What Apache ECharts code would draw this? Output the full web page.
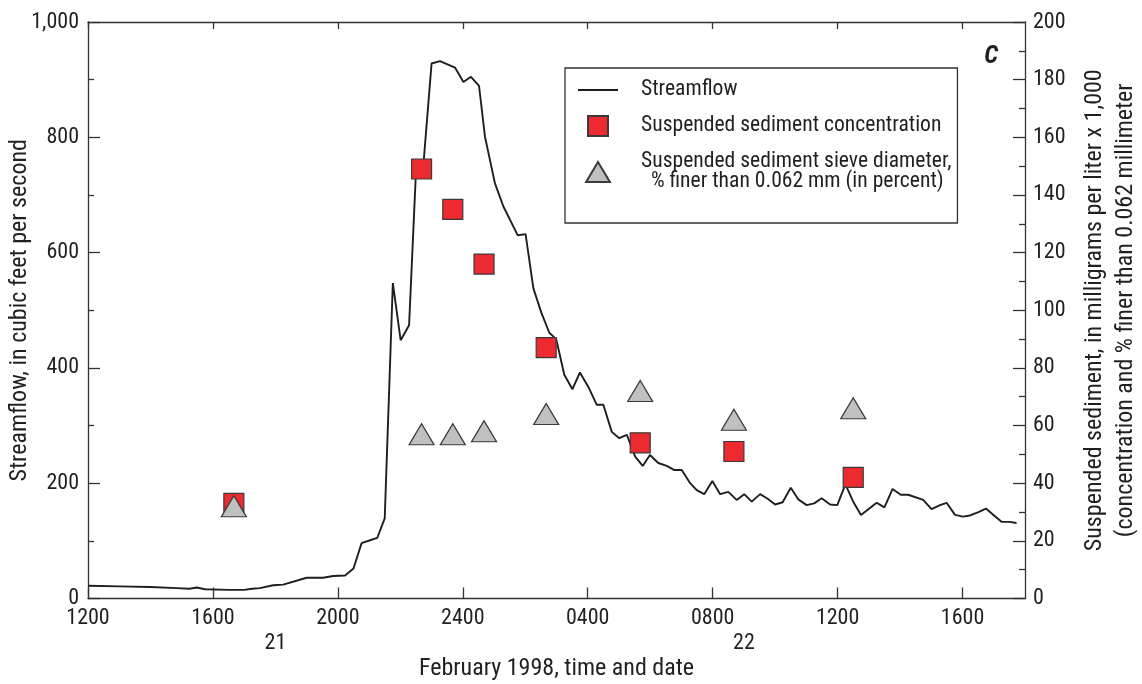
<!DOCTYPE html>
<html>
<head>
<meta charset="utf-8">
<title>Streamflow and suspended sediment, February 1998</title>
<script src="https://cdn.jsdelivr.net/npm/echarts@6/dist/echarts.min.js"></script>
<style>
  html, body { margin: 0; padding: 0; background: #ffffff; }
  #chart { width: 1142px; height: 684px; }
</style>
</head>
<body>
<div id="chart"></div>
<script>
// Time is expressed in hours after midnight starting February 21 (24 = midnight, 36 = noon on the 22nd).
const flowHours = [
  12.0, 13.0, 14.0, 14.84, 15.25, 15.48, 15.75, 16.5, 17.0, 17.25, 17.5, 17.93, 18.25,
  19.0, 19.53, 19.85, 20.23, 20.5, 20.76, 21.03, 21.26, 21.5, 21.76, 22.01, 22.28,
  22.5, 22.75, 23.0, 23.27, 23.75, 24.02, 24.26, 24.52, 24.71, 25.03, 25.3, 25.76,
  26.01, 26.26, 26.52, 26.77, 26.99, 27.25, 27.51, 27.75, 28.02, 28.29, 28.5, 28.77,
  29.01, 29.25, 29.52, 29.76, 29.99, 30.26, 30.53, 30.76, 31.01, 31.28, 31.49, 31.73,
  31.99, 32.24, 32.5, 32.77, 33.01, 33.25, 33.52, 33.76, 34.0, 34.24, 34.5, 34.74,
  35.01, 35.25, 35.49, 35.76, 35.99, 36.25, 36.5, 36.75, 37.25, 37.5, 37.76, 38.02,
  38.26, 38.74, 39.01, 39.28, 39.49, 39.76, 40.01, 40.24, 40.51, 40.75, 40.99, 41.25,
  41.5, 41.73
];
const streamflow = [
  22, 21, 20, 18, 17, 19, 16, 15, 15, 17, 18, 23, 24,
  36, 36, 39, 40, 52, 96, 101, 105, 139, 547, 448, 474,
  740, 760, 928, 932, 921, 896, 905, 889, 801, 720, 680, 630,
  632, 538, 495, 461, 450, 388, 363, 392, 367, 336, 336, 289,
  278, 284, 246, 230, 249, 235, 230, 223, 223, 200, 188, 181,
  204, 181, 185, 171, 181, 168, 181, 173, 163, 167, 192, 172,
  162, 165, 174, 163, 162, 198, 168, 145, 166, 158, 190, 180,
  180, 171, 155, 162, 166, 145, 142, 144, 150, 156, 145, 133,
  133, 131
];

// Suspended-sediment samples
const sampleHours = [16.67, 22.68, 23.68, 24.68, 26.67, 29.68, 32.68, 36.5];
const concentration = [33, 149, 135, 116, 87, 54, 51, 42];
const finerPercent = [32, 57, 57, 58, 64, 72, 62, 66];

// Axis labelling
const timeTicks = [12, 16, 20, 24, 28, 32, 36, 40];
const dayLabelHours = [18, 33];
const dayLabels = ['21', '22'];

const FONT = "'Liberation Sans Narrow', 'Roboto Condensed', 'DejaVu Sans Condensed', 'Arial Narrow', sans-serif";
const INK = '#231f20';
const AXIS = '#333333';
const FS = 22;      // tick labels
const FS_LEG = 21.6; // legend entries
const FS_NAME = 24; // axis titles

const pair = (xs, ys) => xs.map((x, i) => [x, ys[i]]);

function clockLabel(h) {
  const hh = h % 24;
  if (hh === 0) return '2400';
  return String(hh).padStart(2, '0') + '00';
}

const chart = echarts.init(document.getElementById('chart'), null, { renderer: 'canvas' });

const axisLineStyle = { color: AXIS, width: 1.3 };

chart.setOption({
  animation: false,
  backgroundColor: '#ffffff',
  textStyle: { fontFamily: FONT, color: INK },
  grid: { left: 88, right: 117, top: 22, bottom: 85.5, outerBoundsMode: 'none', containLabel: false },
  legend: {
    orient: 'vertical',
    left: 565,
    top: 68,
    padding: [11, 6, 30, 13],
    itemGap: 14,
    itemWidth: 40,
    itemHeight: 20,
    borderColor: AXIS,
    borderWidth: 1.3,
    selectedMode: false,
    textStyle: { fontFamily: FONT, fontSize: FS_LEG, color: INK, lineHeight: 20, padding: [0, 0, 0, 18] },
    data: [
      { name: 'Streamflow', icon: 'path://M0,0H40V2H0Z', itemStyle: { color: '#1e1e1e' } },
      { name: 'Suspended sediment concentration', icon: 'path://M0,0H20V20H0Z' },
      { name: 'Suspended sediment sieve diameter,\n  % finer than 0.062 mm (in percent)', icon: 'path://M12.5,0L25,21L0,21Z' }
    ]
  },
  graphic: [{
    type: 'text',
    right: 1142 - 998,
    top: 44,
    style: { text: 'C', font: "italic bold 25px " + FONT, fill: INK }
  }],
  xAxis: [
    {
      type: 'value', position: 'bottom', min: 12, max: 42, interval: 4,
      axisLine: { lineStyle: axisLineStyle },
      axisTick: { inside: true, length: 11, lineStyle: axisLineStyle, customValues: timeTicks },
      axisLabel: { customValues: timeTicks, formatter: clockLabel, fontSize: FS, color: INK, margin: 9, fontFamily: FONT },
      splitLine: { show: false },
      name: 'February 1998, time and date', nameLocation: 'middle', nameGap: 58, nameMoveOverlap: false,
      nameTextStyle: { fontSize: FS_NAME, color: INK, fontFamily: FONT }
    },
    {
      type: 'value', position: 'bottom', min: 12, max: 42,
      axisLine: { show: false },
      axisTick: { show: false },
      axisLabel: {
        customValues: dayLabelHours,
        formatter: (v) => dayLabels[dayLabelHours.indexOf(v)],
        fontSize: FS, color: INK, margin: 34, fontFamily: FONT
      },
      splitLine: { show: false }
    },
    {
      type: 'value', position: 'top', min: 12, max: 42, interval: 4,
      axisLine: { lineStyle: axisLineStyle },
      axisTick: { inside: true, length: 7, lineStyle: axisLineStyle, customValues: timeTicks },
      axisLabel: { show: false },
      splitLine: { show: false }
    }
  ],
  yAxis: [
    {
      type: 'value', position: 'left', min: 0, max: 1000, interval: 200,
      axisLine: { show: true, lineStyle: axisLineStyle },
      axisTick: { show: true, inside: true, length: 12, lineStyle: axisLineStyle },
      minorTick: { show: true, splitNumber: 2, length: 6, lineStyle: axisLineStyle },
      axisLabel: { fontSize: FS, color: INK, margin: 9, fontFamily: FONT, formatter: (v) => v.toLocaleString('en-US') },
      splitLine: { show: false },
      name: 'Streamflow, in cubic feet per second', nameLocation: 'middle', nameGap: 56, nameMoveOverlap: false,
      nameTextStyle: { fontSize: FS_NAME, color: INK, fontFamily: FONT }
    },
    {
      type: 'value', position: 'right', min: 0, max: 200, interval: 20,
      axisLine: { show: true, lineStyle: axisLineStyle },
      axisTick: { show: true, inside: true, length: 12, lineStyle: axisLineStyle },
      minorTick: { show: true, splitNumber: 2, length: 6, lineStyle: axisLineStyle },
      axisLabel: { fontSize: FS, color: INK, margin: 8, fontFamily: FONT },
      splitLine: { show: false },
      name: 'Suspended sediment, in milligrams per liter x 1,000\n(concentration and % finer than 0.062 millimeter',
      nameLocation: 'middle', nameGap: 54, nameMoveOverlap: false,
      nameTextStyle: { fontSize: FS_NAME, color: INK, fontFamily: FONT, lineHeight: 31, align: 'center' }
    }
  ],
  series: [
    {
      name: 'Streamflow',
      type: 'line',
      xAxisIndex: 0, yAxisIndex: 0,
      data: pair(flowHours, streamflow),
      symbol: 'none',
      lineStyle: { color: '#1e1e1e', width: 1.9 },
      itemStyle: { color: '#1e1e1e' },
      z: 2
    },
    {
      name: 'Suspended sediment concentration',
      type: 'scatter',
      xAxisIndex: 0, yAxisIndex: 1,
      data: pair(sampleHours, concentration),
      symbol: 'rect',
      symbolSize: 20,
      itemStyle: { color: '#ec2a2f', borderColor: '#3a3a3a', borderWidth: 1.2, opacity: 1 },
      z: 3
    },
    {
      name: 'Suspended sediment sieve diameter,\n  % finer than 0.062 mm (in percent)',
      type: 'scatter',
      xAxisIndex: 0, yAxisIndex: 1,
      data: pair(sampleHours, finerPercent),
      symbol: 'triangle',
      symbolSize: [25, 21],
      itemStyle: { color: '#c0c0c0', borderColor: '#3a3a3a', borderWidth: 1.2, opacity: 1 },
      z: 4
    }
  ]
});
</script>
</body>
</html>
